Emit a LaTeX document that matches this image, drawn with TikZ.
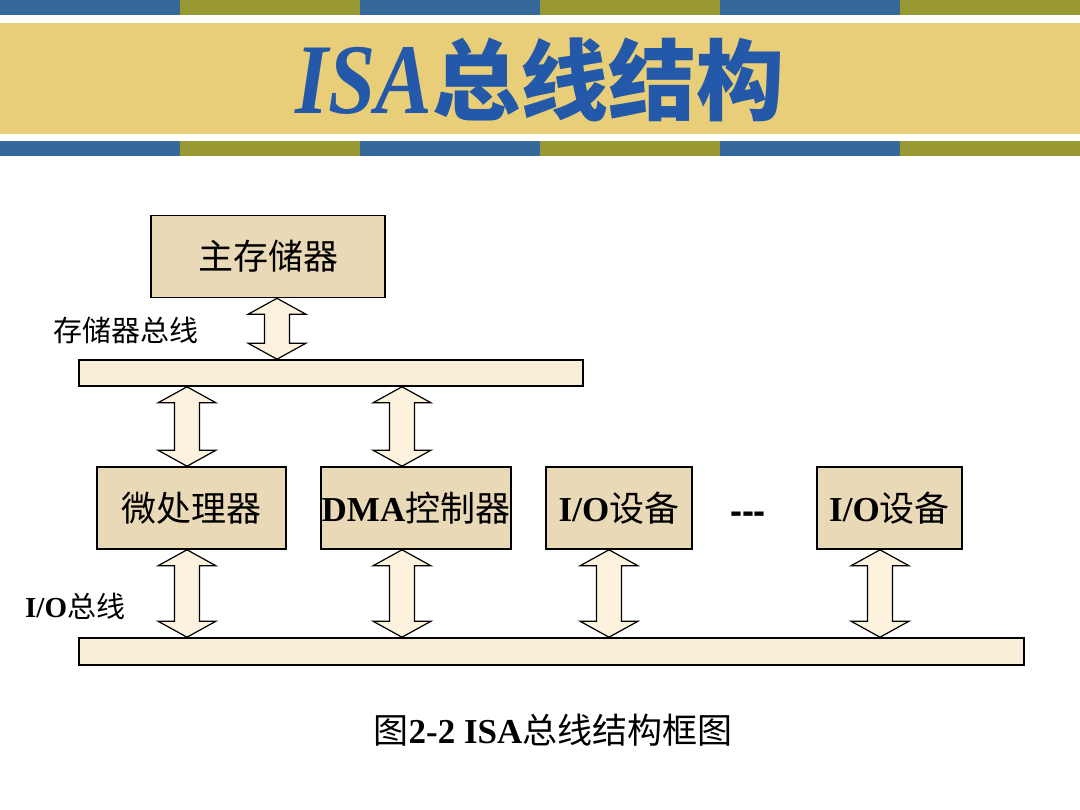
\documentclass[tikz,border=0pt]{standalone}
\usepackage{fontspec}
\setmainfont{Liberation Serif}
\newfontfamily\cjk{Noto Sans CJK SC}
\newfontfamily\dashfont{Liberation Sans}
\usetikzlibrary{calc}

\definecolor{stripeblue}{HTML}{35699B}
\definecolor{stripeolive}{HTML}{999933}
\definecolor{bandsand}{HTML}{E8CE78}
\definecolor{titleblue}{HTML}{2459A9}
\definecolor{boxfill}{HTML}{E9D9B6}
\definecolor{barfill}{HTML}{F8EDD7}
\definecolor{arrowfill}{HTML}{FDF2DE}

% Chinese text at regular weight inside bold Latin runs
\newcommand\zh[1]{{\cjk\mdseries #1}}

\tikzset{
  unit/.style={draw=black, line width=1.6pt, fill=boxfill, inner sep=0pt,
    minimum height=82pt, font=\fontsize{35}{40}\selectfont\bfseries},
  busbar/.style={draw=black, line width=1.6pt, fill=barfill, inner sep=0pt},
  buslabel/.style={inner sep=0pt, anchor=west, font=\fontsize{29}{32}\selectfont\bfseries},
  arrowbody/.style={draw=black, line width=1.2pt, fill=arrowfill, line join=miter}
}

% wide double-headed bus arrow at abscissa #1 from node #2 (above) to node #3 (below)
\newcommand\busarrow[3]{%
  \path (#1,0 |- #2.south) coordinate (at) (#1,0 |- #3.north) coordinate (ab);
  \draw[arrowbody] (at) -- ($(at)+(29,16)$) -- ($(at)+(12.5,16)$)
    -- ($(ab)+(12.5,-16)$) -- ($(ab)+(29,-16)$) -- (ab)
    -- ($(ab)+(-29,-16)$) -- ($(ab)+(-12.5,-16)$)
    -- ($(at)+(-12.5,16)$) -- ($(at)+(-29,16)$) -- cycle;
}

\begin{document}
\begin{tikzpicture}[x=1pt, y=-1pt]
\useasboundingbox (0,0) rectangle (1080,810);
\fill[white] (0,0) rectangle (1080,810);

% header stripes
\foreach \i in {0,2,4} {
  \fill[stripeblue] (\i*180,0) rectangle ++(180,15);
  \fill[stripeblue] (\i*180,141) rectangle ++(180,15);
}
\foreach \i in {1,3,5} {
  \fill[stripeolive] (\i*180,0) rectangle ++(180,15);
  \fill[stripeolive] (\i*180,141) rectangle ++(180,15);
}
\fill[bandsand] (0,23) rectangle (1080,134);

\node (title) at (540,80) [inner sep=0pt, text=titleblue]
  {\fontsize{100}{100}\selectfont\bfseries\itshape\scalebox{0.85}[1]{ISA}%
   \fontsize{88}{90}\selectfont\cjk\bfseries\upshape 总线结构};

% units
\node[unit, minimum width=234pt] (mem) at (268,256.5) {\zh{主存储器}};
\node[busbar, minimum width=504pt, minimum height=26pt] (mbus) at (331,373) {};
\node[buslabel] (mbuslabel) at (53,330) {\zh{存储器总线}};

\node[unit, minimum width=189pt] (cpu) at (191.5,508) {\zh{微处理器}};
\node[unit, minimum width=190pt] (dma) at (416,508) {DMA\zh{控制器}};
\node[unit, minimum width=146pt] (io1) at (619,508) {I/O\zh{设备}};
\node[unit, minimum width=145pt] (io2) at (889.5,508) {I/O\zh{设备}};
\node (dots) at (748,518) [inner sep=0pt, font=\dashfont\fontsize{36}{36}\selectfont\bfseries] {{-}{-}{-}};

\node[busbar, minimum width=945pt, minimum height=27pt] (iobus) at (551.5,651.5) {};
\node[buslabel] (iobuslabel) at (25,606) {I/O\zh{总线}};

% bus connections
\busarrow{277}{mem}{mbus}
\busarrow{187}{mbus}{cpu}
\busarrow{402}{mbus}{dma}
\busarrow{187}{cpu}{iobus}
\busarrow{402}{dma}{iobus}
\busarrow{609}{io1}{iobus}
\busarrow{880}{io2}{iobus}

% caption
\node (caption) at (553,730) [inner sep=0pt, font=\fontsize{35}{38}\selectfont\bfseries]
  {\zh{图}2-2 ISA\zh{总线结构框图}};
\end{tikzpicture}
\end{document}
